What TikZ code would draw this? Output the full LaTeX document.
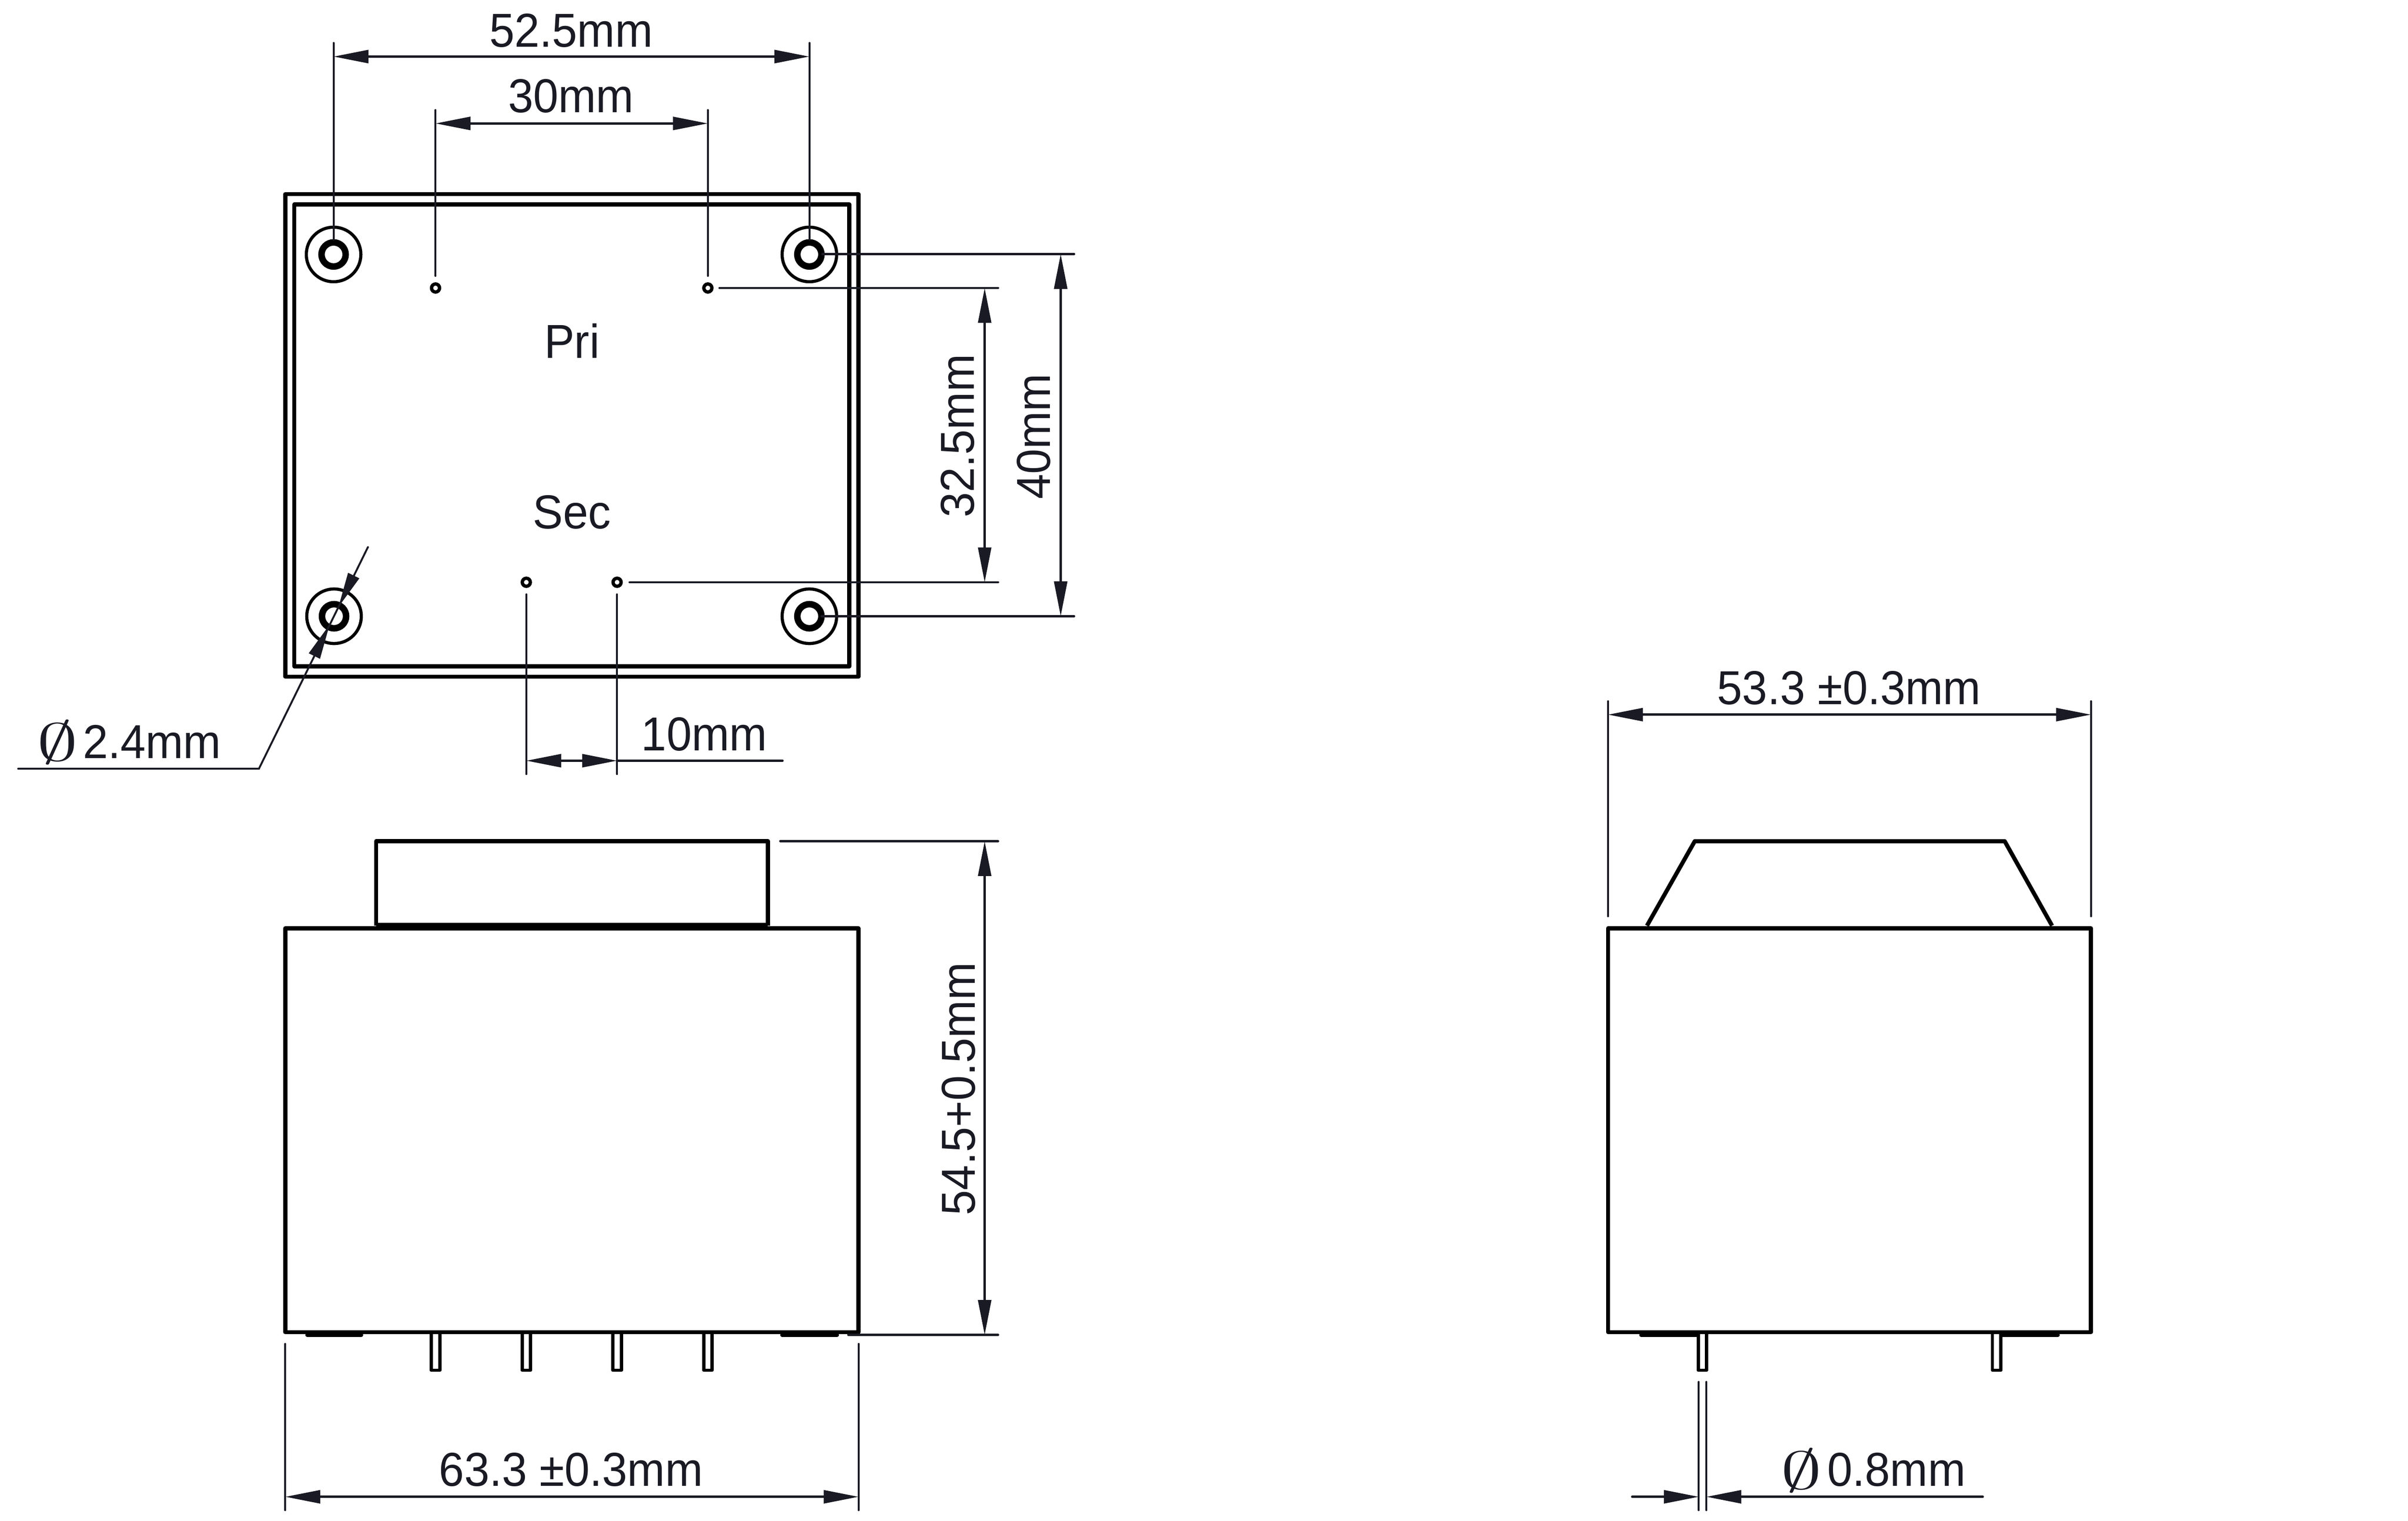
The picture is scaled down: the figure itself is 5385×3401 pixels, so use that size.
\documentclass[tikz,border=0pt]{standalone}
\usepackage{graphicx}
\usepackage{fontspec}
\setmainfont[FakeStretch=0.95]{Liberation Sans}
\usetikzlibrary{arrows.meta}
\definecolor{navy}{HTML}{1A1A24}
\newcommand{\diam}{\scalebox{3.7}[2.38]{$\emptyset$}}
\tikzset{
  outl/.style={draw=black,line width=1.85pt,line join=round},
  ringo/.style={draw=black,line width=1.4pt},
  ringi/.style={draw=black,line width=2.9pt},
  pinh/.style={draw=black,line width=1.5pt},
  ext/.style={draw=navy,line width=.85pt,line cap=round},
  exth/.style={draw=navy,line width=1pt,line cap=round},
  dimen/.style={draw=navy,line width=1.05pt,line cap=round,{Triangle[length=15.6pt,width=5.8pt]}-{Triangle[length=15.6pt,width=5.8pt]}},
  dimr/.style={draw=navy,line width=1.05pt,line cap=round,-{Triangle[length=15.6pt,width=5.8pt]}},
  lab/.style={text=navy,inner sep=0pt,outer sep=0pt,anchor=base,font=\fontsize{21.3pt}{25pt}\selectfont},
  vlab/.style={lab,rotate=90},
  phi/.style={text=navy,inner sep=0pt,outer sep=0pt,anchor=center},
}
\begin{document}
\begin{tikzpicture}[x=0.2pt,y=-0.2pt]
\useasboundingbox (0,0) rectangle (5385,3401);
% top view
\draw[outl] (638,434) rectangle (1920,1513);
\draw[outl] (658,457) rectangle (1899,1490);
\foreach \cx/\cy in {746/569,1810/569,747/1378,1810/1378}{
  \draw[ringo] (\cx,\cy) circle (61);
  \draw[ringi] (\cx,\cy) circle (27);
}
\foreach \cx/\cy in {974/644,1583/644,1177/1302,1380/1302}{
  \draw[pinh] (\cx,\cy) circle (9);
}
% front view
\draw[outl] (841,2070) -- (841,1881) -- (1717,1881) -- (1717,2070);
\draw[draw=black,line width=1.8pt] (841,2068) -- (1717,2068);
\draw[outl] (638,2076) rectangle (1920,2979);
% side view
\draw[outl] (3683,2070) -- (3790,1881) -- (4483,1881) -- (4589,2070);
\draw[outl] (3596,2076) rectangle (4676,2979);
% feet
\foreach \xa/\xb in {687/808,1749/1872,3670/3795,4476/4602}{
  \draw[draw=black,line width=1.7pt,line cap=round] (\xa,2985) -- (\xb,2985);
}
% pins
\foreach \px in {974,1177,1380,1583,3807,4465}{
  \draw[pinh,line join=round] (\px-9.5,2983) -- (\px-9.5,3064) -- (\px+9.5,3064) -- (\px+9.5,2983);
}
% 52.5 and 30
\draw[ext] (746,96) -- (746,536);
\draw[ext] (1810,96) -- (1810,536);
\draw[dimen] (746,126.5) -- (1810,126.5);
\node[lab] (t525) at (1277,105) {52.5mm};
\draw[ext] (974,246) -- (974,617);
\draw[ext] (1583,246) -- (1583,617);
\draw[dimen] (974,276) -- (1583,276);
\node[lab] (t30) at (1277,252) {30mm};
\node[lab] (tpri) at (1279,801) {Pri};
\node[lab] (tsec) at (1279,1182) {Sec};
% right side dims
\draw[exth] (1839,568) -- (2402,568);
\draw[exth] (1609,644) -- (2232,644);
\draw[exth] (1408,1302) -- (2232,1302);
\draw[exth] (1837,1378) -- (2402,1378);
\draw[dimen] (2202,644) -- (2202,1302);
\draw[dimen] (2372,568) -- (2372,1378);
\node[vlab] (t325) at (2178,975) {32.5mm};
\node[vlab] (t40) at (2348,976) {40mm};
% leader
\draw[ext,line join=miter] (823,1223) -- (579,1719);
\draw[exth] (579,1719) -- (41,1719);
\fill[navy] (778.4,1280.8) -- (803.6,1293.2) -- (757,1357) -- cycle;
\fill[navy] (690.4,1460.8) -- (715.6,1473.2) -- (737,1397) -- cycle;
\node[phi] (phia) at (129,1660) {\diam};
\node[lab] (t24) at (340,1696) {2.4mm};
% 10 mm
\draw[ext] (1177,1329) -- (1177,1731);
\draw[ext] (1380,1329) -- (1380,1731);
\draw[dimen] (1177,1701) -- (1380,1701);
\draw[exth] (1380,1701) -- (1750,1701);
\node[lab] (t10) at (1575,1678) {10mm};
% 54.5
\draw[exth] (1745,1881) -- (2232,1881);
\draw[exth] (1897,2985) -- (2232,2985);
\draw[dimen] (2202,1881) -- (2202,2985);
\node[vlab] (t545) at (2180,2435) {54.5+0.5mm};
% 63.3
\draw[ext] (638,3005) -- (638,3377);
\draw[ext] (1920,3005) -- (1920,3377);
\draw[dimen] (638,3347) -- (1920,3347);
\node[lab] (t633) at (1277,3323) {63.3 ±0.3mm};
% 53.3
\draw[ext] (3596,1568) -- (3596,2049);
\draw[ext] (4676,1568) -- (4676,2049);
\draw[dimen] (3596,1598) -- (4676,1598);
\node[lab] (t533) at (4135,1575) {53.3 ±0.3mm};
% 0.8
\draw[ext] (3799,3090) -- (3799,3377);
\draw[ext] (3816,3090) -- (3816,3377);
\draw[dimr] (3650,3347) -- (3799,3347);
\draw[dimr] (4434,3347) -- (3816,3347);
\node[phi] (phib) at (4028,3288) {\diam};
\node[lab] (t08) at (4241,3323) {0.8mm};
\end{tikzpicture}
\end{document}
